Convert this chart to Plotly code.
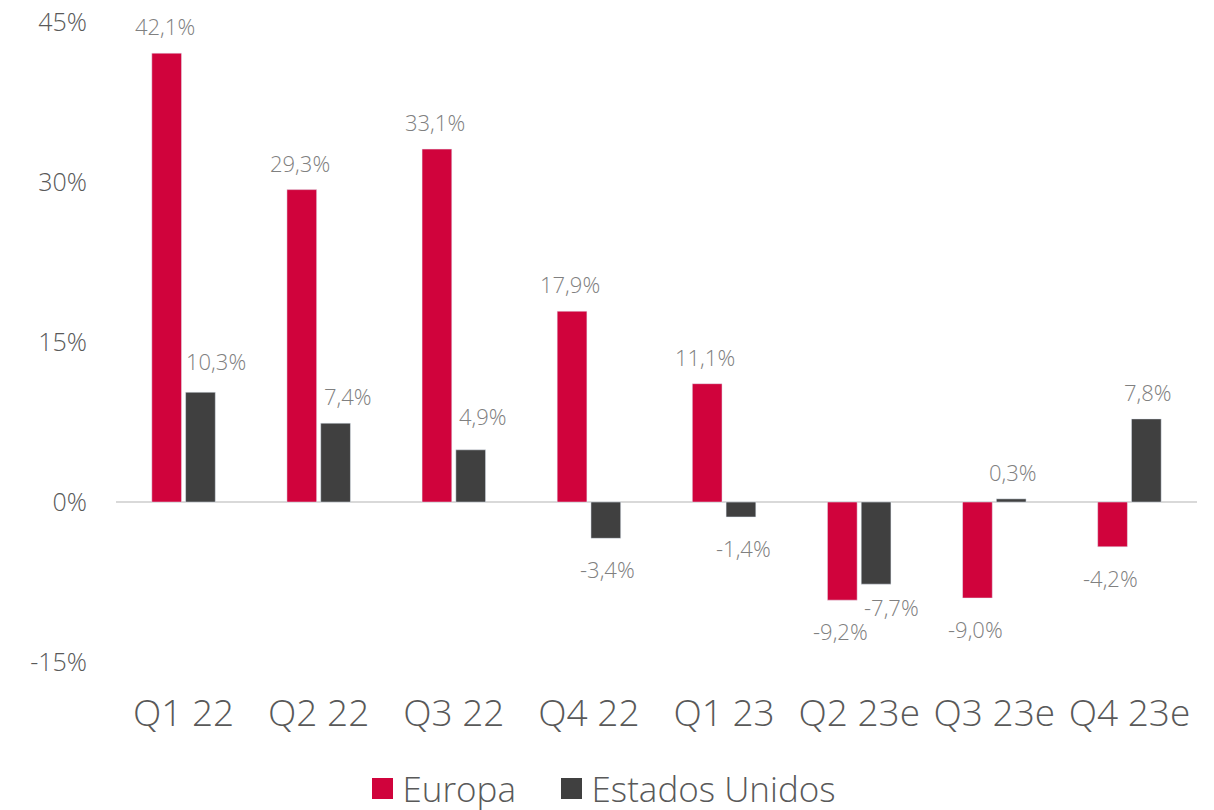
import plotly.graph_objects as go

categories = ["Q1 22", "Q2 22", "Q3 22", "Q4 22", "Q1 23", "Q2 23e", "Q3 23e", "Q4 23e"]
europa = [42.1, 29.3, 33.1, 17.9, 11.1, -9.2, -9.0, -4.2]
eeuu = [10.3, 7.4, 4.9, -3.4, -1.4, -7.7, 0.3, 7.8]
series_names = ["Europa", "Estados Unidos"]
y_ticks = [-15, 0, 15, 30, 45]
y_tick_labels = ["-15%", "0%", "15%", "30%", "45%"]

RED = "#D0033C"
DARK = "#404040"
FONT = "Open Sans"

# manual label nudges (pixels) as in the reference: (series, index) -> (dx, dy)
label_nudges = {(1, 0): (13, 4), (1, 1): (10, 0), (1, 2): (10, 7), (1, 5): (13, 8)}

fig = go.Figure()
fig.add_trace(go.Bar(x=categories, y=europa, name=series_names[0], marker_color=RED,
                     showlegend=False, hoverinfo="skip"))
fig.add_trace(go.Bar(x=categories, y=eeuu, name=series_names[1], marker_color=DARK,
                     showlegend=False, hoverinfo="skip"))

# legend proxies with larger square icons, one legend box each
for nm, col, lg in zip(series_names, [RED, DARK], ["legend", "legend2"]):
    fig.add_trace(go.Scatter(x=[None], y=[None], mode="markers", name=nm, legend=lg,
                             marker=dict(symbol="square", size=22, color=col,
                                         line=dict(color=col, width=5))))

def fmt(v):
    return ("%.1f" % v).replace(".", ",") + "%"

annotations = []
for si, (vals, xs) in enumerate(((europa, -19), (eeuu, 19))):
    for i, (c, v) in enumerate(zip(categories, vals)):
        dx, dy = label_nudges.get((si, i), (0, 0))
        annotations.append(dict(
            x=c, y=v, xref="x", yref="y", text=fmt(v), showarrow=False,
            xshift=xs + dx, yshift=(27 if v >= 0 else -31) + dy, yanchor="middle",
            font=dict(family=FONT, size=22, color="#808080", weight=300)))

legend_common = dict(orientation="h", xref="container", yref="container",
                     xanchor="left", y=0.036, yanchor="middle",
                     font=dict(family=FONT, size=35, color="#595959", weight=300),
                     itemsizing="trace")

fig.update_layout(
    width=1214, height=810,
    margin=dict(l=108, r=25, t=14, b=156, autoexpand=False),
    paper_bgcolor="white", plot_bgcolor="white",
    barmode="group", bargap=0.5, bargroupgap=0.12,
    font=dict(family=FONT, color="#595959", weight=300),
    annotations=annotations,
    showlegend=True,
    legend=dict(x=0.292, **legend_common),
    legend2=dict(x=0.4477, **legend_common),
)
fig.update_xaxes(showgrid=False, showline=False, zeroline=False, automargin=False,
                 tickfont=dict(family=FONT, size=37, color="#595959", weight=300),
                 ticks="", ticklabelstandoff=26)
fig.update_yaxes(range=[-15, 45.02], tickvals=y_ticks, ticktext=y_tick_labels,
                 showgrid=False, showline=False, zeroline=True, automargin=False,
                 zerolinecolor="#D9D9D9", zerolinewidth=2, ticklabeloverflow="allow",
                 tickfont=dict(family=FONT, size=25, color="#595959", weight=300),
                 ticks="", ticklabelstandoff=28)

fig.write_html("out.html")
